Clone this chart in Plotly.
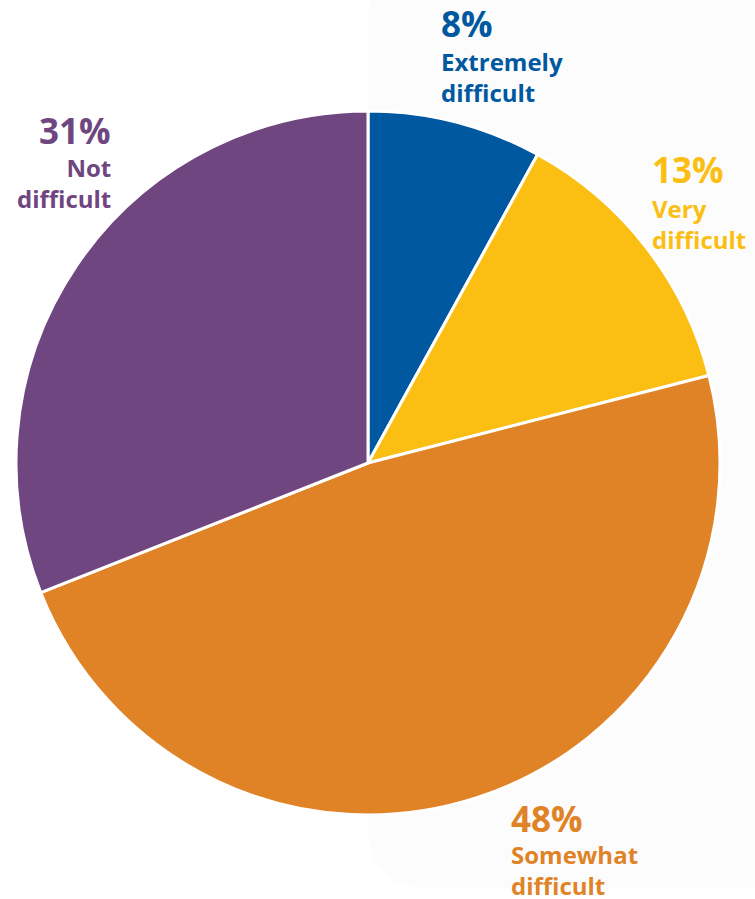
import plotly.graph_objects as go

# Survey answer shares (percent), clockwise from 12 o'clock
categories = ["Extremely difficult", "Very difficult", "Somewhat difficult", "Not difficult"]
values = [8, 13, 48, 31]
colors = ["#0058a0", "#fbbf13", "#e08326", "#704680"]

# Label pieces drawn beside each slice
pct_labels = ["8%", "13%", "48%", "31%"]
name_labels = ["Extremely<br>difficult", "Very<br>difficult", "Somewhat<br>difficult", "Not<br>difficult"]

W, H = 755, 899
FONT = "Open Sans"

fig = go.Figure()

fig.add_trace(go.Pie(
    labels=categories,
    values=values,
    sort=False,
    direction="clockwise",
    rotation=0,
    marker=dict(colors=colors, line=dict(color="white", width=3)),
    textinfo="none",
    hoverinfo="label+percent",
    showlegend=False,
    domain=dict(x=[16 / W, 720 / W], y=[1 - 815 / H, 1 - 111 / H]),
))

# Label anchor points in pixels: (x, y of percent centre, y of name centre, anchor)
label_pos = [
    (439, 24, 77, "left"),
    (650, 170, 224, "left"),
    (509, 818, 870, "left"),
    (113, 130, 183, "right"),
]

annotations = []
for (x, yp, yn, anchor), pct, name, col in zip(label_pos, pct_labels, name_labels, colors):
    annotations.append(dict(
        x=x / W, y=1 - yp / H, xref="paper", yref="paper",
        text=f"<b>{pct}</b>", showarrow=False,
        xanchor=anchor, yanchor="middle", align=anchor,
        font=dict(family=FONT, size=35, color=col),
    ))
    annotations.append(dict(
        x=x / W, y=1 - yn / H, xref="paper", yref="paper",
        text=f"<b>{name}</b>", showarrow=False,
        xanchor=anchor, yanchor="middle", align=anchor,
        font=dict(family=FONT, size=24, color=col),
    ))

# Faint rounded panel behind the right half
x0, x1, y0, y1, r = 368, 800, -40, 888, 62
panel = (f"M {x0 + r},{y0} L {x1},{y0} L {x1},{y1} L {x0 + r},{y1} "
         f"Q {x0},{y1} {x0},{y1 - r} L {x0},{y0 + r} Q {x0},{y0} {x0 + r},{y0} Z")
def to_paper(path):
    out = []
    for tok in path.split(" "):
        if "," in tok:
            a, b = tok.split(",")
            out.append(f"{float(a) / W:.5f},{1 - float(b) / H:.5f}")
        else:
            out.append(tok)
    return " ".join(out)

fig.update_layout(
    width=W, height=H,
    margin=dict(l=0, r=0, t=0, b=0),
    paper_bgcolor="white",
    plot_bgcolor="white",
    annotations=annotations,
    shapes=[dict(type="path", xref="paper", yref="paper", path=to_paper(panel),
                 fillcolor="#fcfcfc", line=dict(width=0), layer="below")],
)

fig.write_html("out.html")
